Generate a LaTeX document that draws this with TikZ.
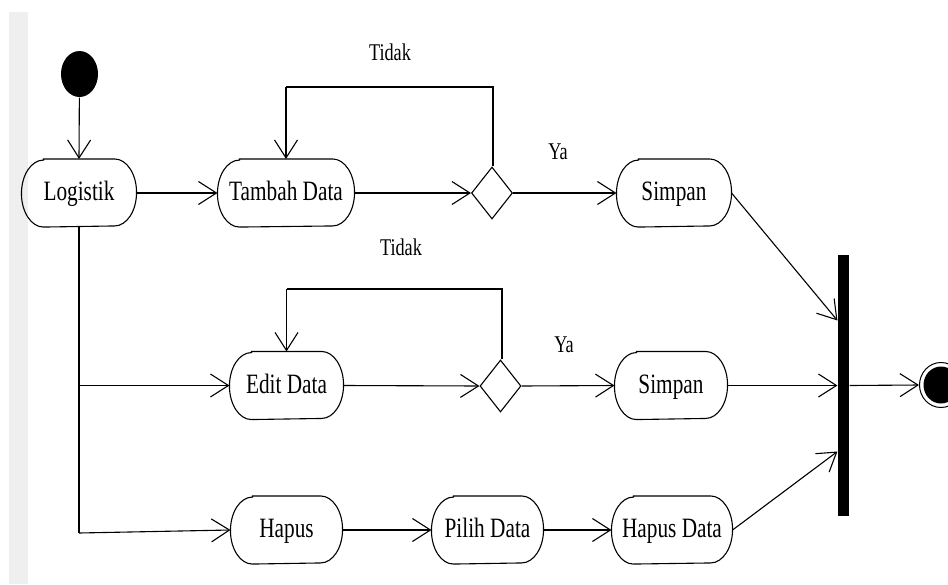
\documentclass[tikz,border=0pt]{standalone}
\usepackage{fontspec}
\setmainfont{Liberation Serif}[FakeStretch=0.76]
\usetikzlibrary{arrows.meta,shapes.geometric}
\newlength\myrx
\setlength\myrx{22pt}
\newcommand\myact[5]{%
  \node[act, minimum width=#4pt] (#1) at (#2,#3) {#5};
  \draw ([xshift=\myrx]#1.north west) -- ([xshift=-\myrx]#1.north east)
    arc[start angle=90,end angle=-90,x radius=\myrx,y radius=33.5pt]
    -- ([xshift=\myrx]#1.south west)
    arc[start angle=270,end angle=90,x radius=\myrx,y radius=33.5pt] -- cycle;}
\definecolor{band}{RGB}{239,239,239}
\begin{document}
\begin{tikzpicture}[x=1pt,y=1pt,line width=1.1pt,
  act/.style={rectangle, inner sep=0pt, minimum height=67pt, text height=20pt, text depth=5pt,
    font=\fontsize{28}{30}\selectfont},
  lbl/.style={inner sep=0pt, font=\fontsize{24}{26}\selectfont},
  dec/.style={diamond, draw, inner sep=0pt, minimum width=41pt, minimum height=52pt},
  arr/.style={-{Straight Barb[length=18pt,width=23pt]}},
  loopline/.style={line width=2.6pt}]
\useasboundingbox (0,0) rectangle (948,-584);
\clip (0,0) rectangle (948,-584);
\fill[band] (9,-12) rectangle (28,-584);
% nodes
\node[ellipse, fill=black, inner sep=0pt, minimum width=37pt, minimum height=46pt] (start) at (79.5,-74) {};
\myact{log}{79}{-193}{114}{Logistik}
\myact{tambah}{286}{-193}{136}{Tambah Data}
\node[dec] (d1) at (492,-193) {};
\myact{simpan1}{674}{-193}{114}{Simpan}
\myact{edit}{286.5}{-385.5}{113}{Edit Data}
\node[dec] (d2) at (500.5,-386) {};
\myact{simpan2}{671}{-385.5}{112}{Simpan}
\myact{hapus}{286.5}{-530}{111}{Hapus}
\myact{pilih}{487.5}{-530}{111}{Pilih Data}
\myact{hapusdata}{672}{-530}{120}{Hapus Data}
\node[rectangle, fill=black, inner sep=0pt, minimum width=11pt, minimum height=261pt] (bar) at (843.5,-385.5) {};
\node[ellipse, draw, line width=1pt, inner sep=0pt, minimum width=43pt, minimum height=45pt] (end) at (941,-385) {};
\node[ellipse, fill=black, inner sep=0pt, minimum width=35pt, minimum height=37pt] (endin) at (end) {};
% labels
\node[lbl] (tidak1) at (390,-52) {Tidak};
\node[lbl] (ya1) at (558,-152) {Ya};
\node[lbl] (tidak2) at (401,-247) {Tidak};
\node[lbl] (ya2) at (564,-345) {Ya};
% coordinates
\coordinate (t1) at (493,-87);
\coordinate (t2) at (286,-87);
\coordinate (u1) at (502,-289);
\coordinate (u2) at (286.5,-289);
\coordinate (br) at (79,-385.5);
\coordinate (corner) at (79,-533);
% connectors
\draw[arr] (start) -- (log.north);
\draw[arr] (log.east) -- (tambah.west);
\draw[arr] (tambah.east) -- (d1.west);
\draw[arr] (d1.east) -- (simpan1.west);
\draw[loopline] ([xshift=1pt]d1.north) -- (t1) -- (t2);
\draw[arr] (t2) -- (tambah.north);
\draw[line width=1.6pt] (log.south) -- (corner);
\draw[arr] (corner) -- (hapus.west);
\draw[arr] (br) -- (edit.west);
\draw[arr] (edit.east) -- (d2.west);
\draw[arr] (d2.east) -- (simpan2.west);
\draw[loopline] ([xshift=1.5pt]d2.north) -- (u1) -- (u2);
\draw[arr] (u2) -- (edit.north);
\draw[arr] (hapus.east) -- (pilih.west);
\draw[arr] (pilih.east) -- (hapusdata.west);
\draw[arr] (simpan1.east) -- ([yshift=65pt]bar.west);
\draw[arr] (simpan2.east) -- (bar.west);
\draw[arr] (hapusdata.east) -- ([yshift=-66pt]bar.west);
\draw[arr] (bar.east) -- (end.west);
\end{tikzpicture}
\end{document}
